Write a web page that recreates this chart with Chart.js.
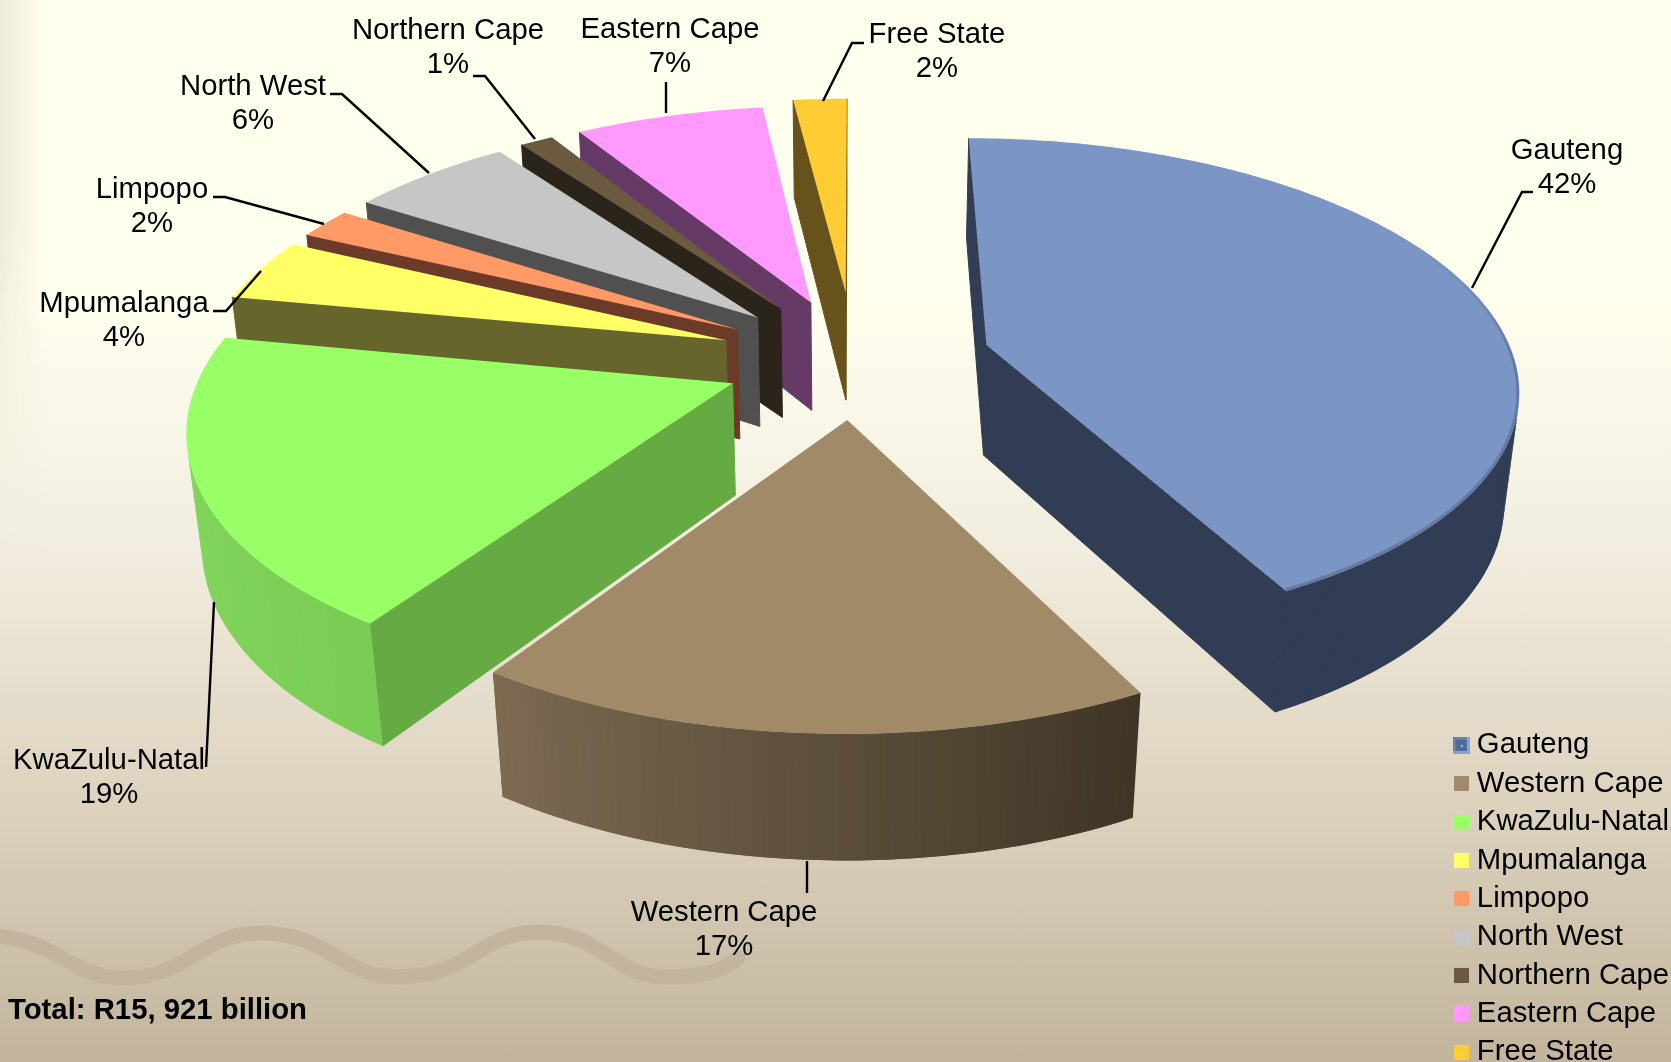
<!DOCTYPE html>
<html>
<head>
<meta charset="utf-8">
<title>Provincial shares</title>
<script src="https://cdn.jsdelivr.net/npm/chart.js@4/dist/chart.umd.min.js"></script>
<style>
  html, body { margin: 0; padding: 0; width: 1671px; height: 1062px; overflow: hidden; }
  body { background: linear-gradient(#ffffee 0%, #ffffee 28%, #f3efe0 50%, #ddd3bf 75%, #c3b59c 100%); position: relative; }
  #edge { position: absolute; left: 0; top: 0; width: 46px; height: 560px; background: linear-gradient(90deg, #efebda, rgba(255,255,238,0));
    -webkit-mask-image: linear-gradient(#000 40%, transparent 100%); mask-image: linear-gradient(#000 40%, transparent 100%); }
  #wrap { position: absolute; left: 0; top: 0; width: 1671px; height: 1062px; overflow: hidden; }
</style>
</head>
<body>
<div id="edge"></div>
<div id="wrap"><canvas id="pie" width="1679" height="1076"></canvas></div>
<script>
// Chart data
const provinces = ["Gauteng", "Western Cape", "KwaZulu-Natal", "Mpumalanga", "Limpopo", "North West", "Northern Cape", "Eastern Cape", "Free State"];
const shares = [42.4, 17, 18.6, 4.1, 2, 5.9, 1.2, 6.85, 1.95];
const totalText = "Total: R15, 921 billion";

// Colours per slice
const topColors = ["#7b96c4", "#a08a68", "#99ff66", "#ffff66", "#ff9966", "#c6c6c6", "#6b5a40", "#ff99ff", "#ffcc33"];
const wallColors = ["#313d55", "#3f3422", "#66aa44", "#66652c", "#6b3a28", "#505050", "#2b241a", "#663a66", "#66521a"];
const rimStart = ["#313d55", "#3f3526", "#7acc55", "#66652c", "#6b3a28", "#505050", "#2b241a", "#663a66", "#66521a"];
const rimEnd = ["#313d55", "#7d6b52", "#88dd60", "#66652c", "#6b3a28", "#505050", "#2b241a", "#663a66", "#66521a"];
const explode = [122, 112, 116, 122, 122, 122, 122, 122, 136];

// Text layout: centre of first line, then the leader polyline
const labelSpots = [[1567, 151], [724, 913], [109, 761], [124, 304], [152, 190], [253, 87], [448, 31], [670, 30], [937, 35]];
const leaders = [
  [[1533, 192], [1522, 192], [1472, 288]],
  [[807, 893], [807, 861]],
  [[206, 767], [214, 602]],
  [[213, 311], [226, 311], [261, 271]],
  [[213, 197], [225, 197], [324, 224]],
  [[330, 94], [342, 94], [429, 173]],
  [[473, 76], [485, 76], [535, 139]],
  [[666, 82], [666, 113]],
  [[864, 43], [852, 43], [823, 101]]
];

// Perspective camera fitted to the picture (pie plane in radius units, depth 0..1)
const cam = { cx: 854.6, vanishY: -1192.5, floorY: 5328, a: 6.442e-4, b: 1.0106e-4, c: 0.34, depth: 1.47e-5 };

function project(u, v, z) {
  const w = cam.a + cam.b * v;
  const e = cam.depth * z;
  return {
    x: cam.cx + cam.c * u / (w + e),
    y: (cam.vanishY * w + 1 + e * cam.floorY) / (w + e)
  };
}

function tracePoly(ctx, pts) {
  ctx.beginPath();
  pts.forEach((p, i) => (i ? ctx.lineTo(p.x, p.y) : ctx.moveTo(p.x, p.y)));
  ctx.closePath();
}

function fillPoly(ctx, pts, color) {
  tracePoly(ctx, pts);
  ctx.fillStyle = color;
  ctx.fill();
}

function facing(pts) {
  let area = 0;
  pts.forEach((p, i) => {
    const q = pts[(i + 1) % pts.length];
    area += p.x * q.y - q.x * p.y;
  });
  return area;
}

function mix(c1, c2, t) {
  const n = (c, i) => parseInt(c.substr(1 + i * 2, 2), 16);
  const parts = [0, 1, 2].map((i) => Math.round(n(c1, i) + (n(c2, i) - n(c1, i)) * t));
  return `rgb(${parts[0]},${parts[1]},${parts[2]})`;
}

// Draws one slice from the angles and offset Chart.js worked out for its arc
function drawSlice(ctx, arc, i) {
  const { startAngle, endAngle, outerRadius } = arc;
  const mid = (startAngle + endAngle) / 2;
  const off = arc.options.offset / outerRadius;
  const ox = Math.cos(mid) * off;
  const oy = -Math.sin(mid) * off;
  const steps = Math.max(2, Math.ceil((endAngle - startAngle) / 0.015));

  const rim = [];
  for (let s = 0; s <= steps; s++) {
    const a = startAngle + (endAngle - startAngle) * s / steps;
    rim.push({ u: ox + Math.cos(a), v: oy - Math.sin(a), t: s / steps });
  }
  const tip = { u: ox, v: oy };
  const top = (p) => project(p.u, p.v, 0);
  const low = (p) => project(p.u, p.v, 1);

  // radial walls
  const first = rim[0];
  const last = rim[rim.length - 1];
  const wallA = [top(tip), top(first), low(first), low(tip)];
  const wallB = [top(last), top(tip), low(tip), low(last)];
  [wallA, wallB].forEach((q) => {
    if (facing(q) >= 0) return;
    fillPoly(ctx, q, wallColors[i]);
    ctx.strokeStyle = wallColors[i];
    ctx.lineWidth = 1;
    ctx.stroke();
  });

  // outer wall, each strip runs under the next one so no seams show
  for (let s = 0; s < steps; s++) {
    const q = [top(rim[s]), top(rim[s + 1]), low(rim[s + 1]), low(rim[s])];
    if (facing(q) >= 0) continue;
    const next = rim[Math.min(s + 2, steps)];
    fillPoly(ctx, [top(rim[s]), top(next), low(next), low(rim[s])], mix(rimStart[i], rimEnd[i], rim[s].t));
  }

  // top face
  const face = [top(tip)].concat(rim.map(top));
  fillPoly(ctx, face, topColors[i]);

  // Gauteng has a soft dark edge on its right side, kept inside the face
  if (i === 0) {
    ctx.save();
    tracePoly(ctx, face);
    ctx.clip();
    ctx.lineWidth = 6;
    const shaded = rim.filter((p) => p.t > 0.42);
    for (let s = 0; s + 1 < shaded.length; s++) {
      const a = top(shaded[s]);
      const b = top(shaded[s + 1]);
      ctx.strokeStyle = `rgba(49,61,85,${Math.min(0.3, (shaded[s].t - 0.42) * 1.5)})`;
      ctx.beginPath();
      ctx.moveTo(a.x, a.y);
      ctx.lineTo(b.x, b.y);
      ctx.stroke();
    }
    ctx.restore();
  }
}

const pie3d = {
  id: "pie3d",
  beforeDatasetDraw(chart) {
    const ctx = chart.ctx;
    const arcs = chart.getDatasetMeta(0).data;
    const order = arcs.map((arc, i) => i).sort((p, q) => {
      const depthOf = (arc) => Math.sin((arc.startAngle + arc.endAngle) / 2);
      return depthOf(arcs[p]) - depthOf(arcs[q]);
    });
    ctx.save();
    order.forEach((i) => drawSlice(ctx, arcs[i], i));
    ctx.restore();
    return false;
  },
  afterDraw(chart) {
    const ctx = chart.ctx;
    ctx.save();
    ctx.fillStyle = "#000";
    ctx.strokeStyle = "#000";
    ctx.lineWidth = 2.4;
    ctx.textAlign = "center";
    ctx.textBaseline = "middle";
    ctx.font = '29.3px "Liberation Sans"';
    provinces.forEach((name, i) => {
      const [x, y] = labelSpots[i];
      ctx.fillText(name, x, y);
      ctx.fillText(Math.round(shares[i]) + "%", x, y + 34);
      ctx.beginPath();
      leaders[i].forEach((p, k) => (k ? ctx.lineTo(p[0], p[1]) : ctx.moveTo(p[0], p[1])));
      ctx.stroke();
    });
    ctx.textAlign = "left";
    ctx.textBaseline = "alphabetic";
    ctx.font = 'bold 29.3px "Liberation Sans"';
    ctx.fillText(totalText, 8, 1019);
    ctx.restore();
  },
  beforeDraw(chart) {
    // wavy band behind the chart
    const ctx = chart.ctx;
    ctx.save();
    ctx.strokeStyle = "#c3b49e";
    ctx.lineWidth = 15;
    ctx.lineCap = "round";
    ctx.beginPath();
    ctx.moveTo(-6, 936);
    ctx.bezierCurveTo(60, 940, 70, 978, 122, 978);
    ctx.bezierCurveTo(190, 978, 200, 933, 260, 933);
    ctx.bezierCurveTo(330, 933, 340, 977, 398, 977);
    ctx.bezierCurveTo(470, 977, 480, 932, 538, 932);
    ctx.bezierCurveTo(605, 932, 610, 977, 668, 977);
    ctx.bezierCurveTo(700, 977, 722, 972, 738, 958);
    ctx.stroke();
    ctx.restore();
  }
};

// legend swatches, the first one has a bevelled look
function swatch(i) {
  const c = document.createElement("canvas");
  const size = i === 0 ? 17 : 15;
  c.width = size;
  c.height = size;
  const g = c.getContext("2d");
  g.fillStyle = topColors[i];
  g.fillRect(0, 0, size, size);
  if (i === 0) {
    g.fillStyle = "#6681ad";
    g.fillRect(0, 0, size, size);
    g.fillStyle = "#4f6a9a";
    g.fillRect(3, 3, size - 6, size - 6);
    g.fillStyle = "#8aa3cf";
    g.fillRect(0, size - 3, size, 3);
    g.fillRect(size - 3, 0, 3, size);
    g.fillStyle = "#a9bddc";
    g.fillRect(8, 8, 2, 2);
  }
  return c;
}

new Chart(document.getElementById("pie"), {
  type: "pie",
  data: {
    labels: provinces,
    datasets: [{ data: shares, backgroundColor: topColors, borderWidth: 0, offset: explode }]
  },
  plugins: [pie3d],
  options: {
    responsive: false,
    animation: false,
    layout: { padding: 0 },
    plugins: {
      tooltip: { enabled: false },
      legend: {
        position: "right",
        align: "end",
        labels: {
          color: "#000",
          font: { family: "Liberation Sans", size: 29.3 },
          padding: 9.06,
          usePointStyle: true,
          pointStyleWidth: 1.7,
          boxHeight: 15,
          generateLabels(chart) {
            const items = Chart.overrides.pie.plugins.legend.labels.generateLabels(chart);
            items.forEach((item, i) => { item.pointStyle = swatch(i); });
            return items;
          }
        }
      }
    }
  }
});
</script>
</body>
</html>
